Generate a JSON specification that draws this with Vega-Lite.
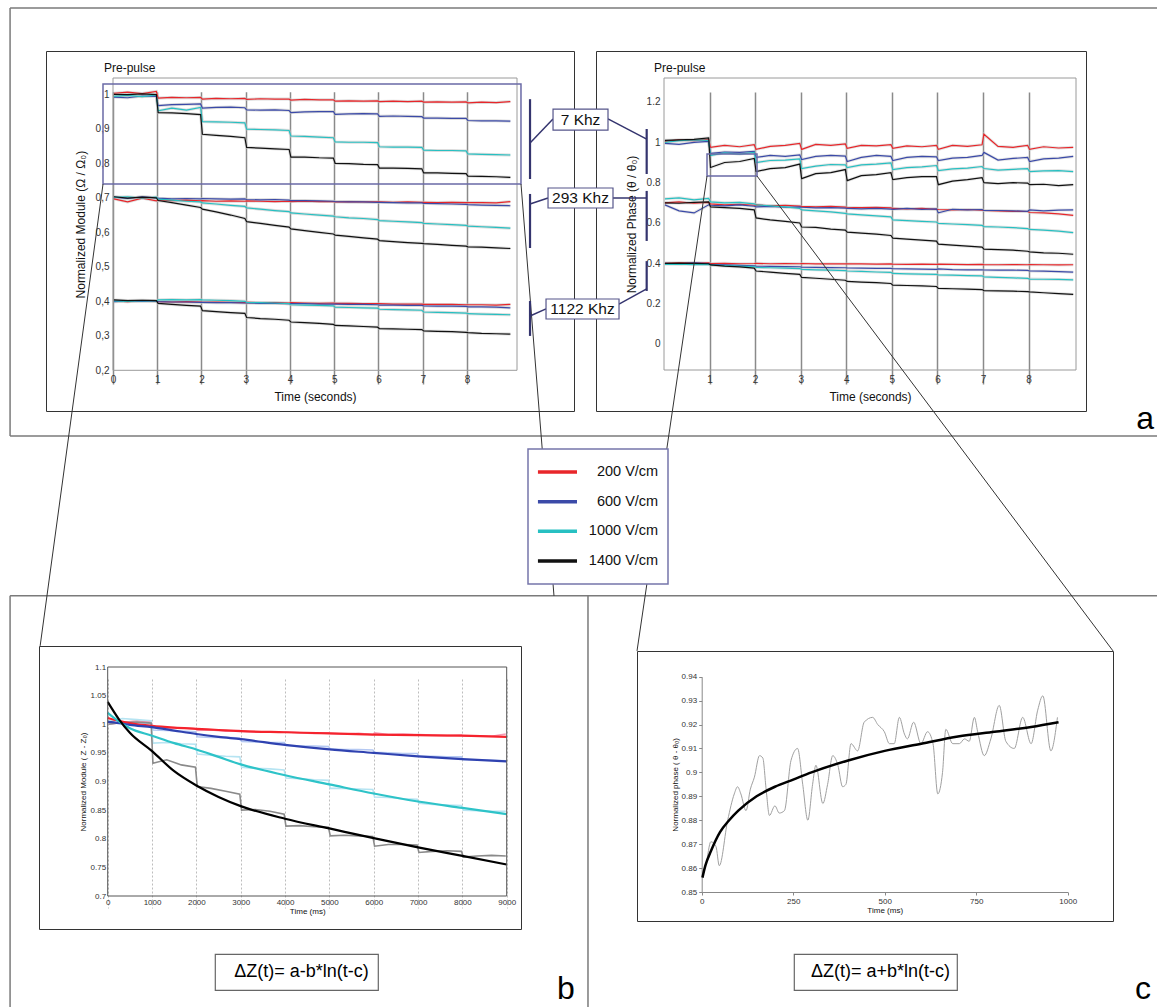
{
"$schema":"https://vega.github.io/schema/vega-lite/v6.json",
"padding":{"left":8,"top":6,"right":0,"bottom":0},
"background":"white",
"config":{"view":{"stroke":null},"font":"Liberation Sans","axis":{"labelFont":"Liberation Sans","titleFont":"Liberation Sans","titleFontWeight":"normal","labelColor":"#333","titleColor":"#111","labelFlush":false,"labelOverlap":false,"tickCount":30},"text":{"font":"Liberation Sans"}},
"datasets":{
"mod":[
{"t":0.02,"a1":1.003,"a2":0.992,"a3":0.994,"a4":1.000,"b1":0.697,"b2":0.702,"b3":0.701,"b4":0.703,"c1":0.401,"c2":0.399,"c3":0.401,"c4":0.404},
{"t":0.33,"a1":1.006,"a2":0.990,"a3":0.997,"a4":0.999,"b1":0.688,"b2":0.698,"b3":0.703,"b4":0.699,"c1":0.399,"c2":0.401,"c3":0.400,"c4":0.402},
{"t":0.66,"a1":1.002,"a2":0.995,"a3":0.993,"a4":1.001,"b1":0.699,"b2":0.703,"b3":0.699,"b4":0.702,"c1":0.402,"c2":0.400,"c3":0.402,"c4":0.403},
{"t":0.98,"a1":1.008,"a2":0.994,"a3":0.998,"a4":0.999,"b1":0.691,"b2":0.700,"b3":0.702,"b4":0.700,"c1":0.400,"c2":0.401,"c3":0.401,"c4":0.402},
{"t":1.02,"a1":0.989,"a2":0.967,"a3":0.952,"a4":0.947,"b1":0.694,"b2":0.699,"b3":0.696,"b4":0.692,"c1":0.399,"c2":0.399,"c3":0.404,"c4":0.394},
{"t":1.33,"a1":0.991,"a2":0.970,"a3":0.960,"a4":0.946,"b1":0.692,"b2":0.697,"b3":0.693,"b4":0.686,"c1":0.398,"c2":0.398,"c3":0.405,"c4":0.391},
{"t":1.66,"a1":0.990,"a2":0.971,"a3":0.954,"a4":0.944,"b1":0.693,"b2":0.698,"b3":0.690,"b4":0.679,"c1":0.399,"c2":0.398,"c3":0.404,"c4":0.388},
{"t":1.98,"a1":0.991,"a2":0.972,"a3":0.962,"a4":0.941,"b1":0.691,"b2":0.697,"b3":0.688,"b4":0.672,"c1":0.398,"c2":0.397,"c3":0.405,"c4":0.386},
{"t":2.02,"a1":0.986,"a2":0.960,"a3":0.921,"a4":0.884,"b1":0.692,"b2":0.698,"b3":0.685,"b4":0.667,"c1":0.397,"c2":0.397,"c3":0.404,"c4":0.373},
{"t":2.33,"a1":0.988,"a2":0.962,"a3":0.920,"a4":0.881,"b1":0.690,"b2":0.697,"b3":0.682,"b4":0.659,"c1":0.398,"c2":0.396,"c3":0.403,"c4":0.370},
{"t":2.66,"a1":0.987,"a2":0.963,"a3":0.919,"a4":0.878,"b1":0.691,"b2":0.696,"b3":0.678,"b4":0.650,"c1":0.397,"c2":0.396,"c3":0.402,"c4":0.367},
{"t":2.98,"a1":0.988,"a2":0.961,"a3":0.917,"a4":0.874,"b1":0.690,"b2":0.697,"b3":0.675,"b4":0.640,"c1":0.396,"c2":0.395,"c3":0.400,"c4":0.365},
{"t":3.02,"a1":0.985,"a2":0.955,"a3":0.899,"a4":0.846,"b1":0.691,"b2":0.695,"b3":0.671,"b4":0.631,"c1":0.397,"c2":0.395,"c3":0.397,"c4":0.353},
{"t":3.33,"a1":0.987,"a2":0.954,"a3":0.898,"a4":0.844,"b1":0.690,"b2":0.694,"b3":0.667,"b4":0.626,"c1":0.396,"c2":0.394,"c3":0.396,"c4":0.350},
{"t":3.66,"a1":0.986,"a2":0.955,"a3":0.897,"a4":0.842,"b1":0.689,"b2":0.695,"b3":0.663,"b4":0.620,"c1":0.396,"c2":0.394,"c3":0.395,"c4":0.348},
{"t":3.98,"a1":0.986,"a2":0.953,"a3":0.895,"a4":0.840,"b1":0.690,"b2":0.693,"b3":0.660,"b4":0.615,"c1":0.395,"c2":0.393,"c3":0.393,"c4":0.345},
{"t":4.02,"a1":0.983,"a2":0.947,"a3":0.879,"a4":0.818,"b1":0.689,"b2":0.692,"b3":0.656,"b4":0.610,"c1":0.396,"c2":0.393,"c3":0.390,"c4":0.340},
{"t":4.33,"a1":0.985,"a2":0.949,"a3":0.878,"a4":0.818,"b1":0.690,"b2":0.692,"b3":0.653,"b4":0.605,"c1":0.395,"c2":0.393,"c3":0.389,"c4":0.338},
{"t":4.66,"a1":0.984,"a2":0.950,"a3":0.876,"a4":0.816,"b1":0.689,"b2":0.691,"b3":0.650,"b4":0.600,"c1":0.394,"c2":0.392,"c3":0.388,"c4":0.336},
{"t":4.98,"a1":0.984,"a2":0.950,"a3":0.874,"a4":0.815,"b1":0.689,"b2":0.690,"b3":0.647,"b4":0.595,"c1":0.395,"c2":0.392,"c3":0.387,"c4":0.333},
{"t":5.02,"a1":0.980,"a2":0.942,"a3":0.862,"a4":0.800,"b1":0.688,"b2":0.689,"b3":0.645,"b4":0.592,"c1":0.394,"c2":0.392,"c3":0.383,"c4":0.330},
{"t":5.33,"a1":0.981,"a2":0.943,"a3":0.861,"a4":0.799,"b1":0.689,"b2":0.688,"b3":0.642,"b4":0.588,"c1":0.394,"c2":0.391,"c3":0.382,"c4":0.329},
{"t":5.66,"a1":0.980,"a2":0.944,"a3":0.861,"a4":0.797,"b1":0.688,"b2":0.688,"b3":0.640,"b4":0.584,"c1":0.393,"c2":0.391,"c3":0.381,"c4":0.327},
{"t":5.98,"a1":0.981,"a2":0.943,"a3":0.860,"a4":0.796,"b1":0.688,"b2":0.687,"b3":0.637,"b4":0.580,"c1":0.393,"c2":0.390,"c3":0.380,"c4":0.325},
{"t":6.02,"a1":0.979,"a2":0.936,"a3":0.848,"a4":0.786,"b1":0.688,"b2":0.687,"b3":0.634,"b4":0.576,"c1":0.393,"c2":0.389,"c3":0.377,"c4":0.321},
{"t":6.33,"a1":0.980,"a2":0.937,"a3":0.847,"a4":0.786,"b1":0.687,"b2":0.686,"b3":0.632,"b4":0.573,"c1":0.392,"c2":0.389,"c3":0.376,"c4":0.320},
{"t":6.66,"a1":0.979,"a2":0.936,"a3":0.847,"a4":0.785,"b1":0.688,"b2":0.685,"b3":0.630,"b4":0.570,"c1":0.392,"c2":0.388,"c3":0.375,"c4":0.319},
{"t":6.98,"a1":0.980,"a2":0.935,"a3":0.846,"a4":0.784,"b1":0.687,"b2":0.685,"b3":0.628,"b4":0.568,"c1":0.392,"c2":0.388,"c3":0.374,"c4":0.318},
{"t":7.02,"a1":0.977,"a2":0.931,"a3":0.838,"a4":0.772,"b1":0.687,"b2":0.684,"b3":0.626,"b4":0.567,"c1":0.391,"c2":0.387,"c3":0.369,"c4":0.314},
{"t":7.33,"a1":0.978,"a2":0.931,"a3":0.837,"a4":0.772,"b1":0.686,"b2":0.683,"b3":0.624,"b4":0.565,"c1":0.391,"c2":0.386,"c3":0.368,"c4":0.313},
{"t":7.66,"a1":0.977,"a2":0.930,"a3":0.837,"a4":0.771,"b1":0.687,"b2":0.682,"b3":0.622,"b4":0.562,"c1":0.391,"c2":0.386,"c3":0.367,"c4":0.312},
{"t":7.98,"a1":0.978,"a2":0.930,"a3":0.836,"a4":0.770,"b1":0.686,"b2":0.681,"b3":0.620,"b4":0.560,"c1":0.390,"c2":0.385,"c3":0.366,"c4":0.310},
{"t":8.02,"a1":0.975,"a2":0.924,"a3":0.827,"a4":0.763,"b1":0.686,"b2":0.680,"b3":0.618,"b4":0.558,"c1":0.390,"c2":0.384,"c3":0.364,"c4":0.309},
{"t":8.33,"a1":0.977,"a2":0.923,"a3":0.826,"a4":0.762,"b1":0.686,"b2":0.679,"b3":0.616,"b4":0.557,"c1":0.390,"c2":0.384,"c3":0.363,"c4":0.307},
{"t":8.66,"a1":0.976,"a2":0.923,"a3":0.825,"a4":0.761,"b1":0.685,"b2":0.678,"b3":0.614,"b4":0.555,"c1":0.389,"c2":0.383,"c3":0.362,"c4":0.306},
{"t":8.98,"a1":0.979,"a2":0.922,"a3":0.824,"a4":0.759,"b1":0.689,"b2":0.677,"b3":0.612,"b4":0.553,"c1":0.391,"c2":0.381,"c3":0.361,"c4":0.305}
],
"pha":[
{"t":0.02,"a1":1.005,"a2":0.995,"a3":1.000,"a4":1.010,"b1":0.700,"b2":0.690,"b3":0.720,"b4":0.700,"c1":0.400,"c2":0.400,"c3":0.395,"c4":0.400},
{"t":0.33,"a1":1.012,"a2":0.990,"a3":1.008,"a4":1.012,"b1":0.705,"b2":0.660,"b3":0.725,"b4":0.698,"c1":0.402,"c2":0.398,"c3":0.396,"c4":0.401},
{"t":0.66,"a1":1.008,"a2":1.000,"a3":1.012,"a4":1.015,"b1":0.698,"b2":0.650,"b3":0.715,"b4":0.702,"c1":0.401,"c2":0.402,"c3":0.394,"c4":0.400},
{"t":0.98,"a1":1.015,"a2":1.005,"a3":1.010,"a4":1.022,"b1":0.702,"b2":0.690,"b3":0.722,"b4":0.705,"c1":0.402,"c2":0.399,"c3":0.395,"c4":0.398},
{"t":1.02,"a1":0.975,"a2":0.945,"a3":0.935,"a4":0.875,"b1":0.695,"b2":0.688,"b3":0.705,"b4":0.680,"c1":0.399,"c2":0.395,"c3":0.392,"c4":0.392},
{"t":1.33,"a1":0.985,"a2":0.952,"a3":0.948,"a4":0.900,"b1":0.690,"b2":0.685,"b3":0.700,"b4":0.676,"c1":0.400,"c2":0.392,"c3":0.389,"c4":0.386},
{"t":1.66,"a1":0.978,"a2":0.950,"a3":0.942,"a4":0.905,"b1":0.693,"b2":0.690,"b3":0.702,"b4":0.672,"c1":0.398,"c2":0.390,"c3":0.386,"c4":0.382},
{"t":1.98,"a1":0.988,"a2":0.955,"a3":0.950,"a4":0.920,"b1":0.688,"b2":0.683,"b3":0.695,"b4":0.665,"c1":0.399,"c2":0.388,"c3":0.384,"c4":0.376},
{"t":2.02,"a1":0.965,"a2":0.925,"a3":0.900,"a4":0.855,"b1":0.690,"b2":0.680,"b3":0.690,"b4":0.625,"c1":0.400,"c2":0.386,"c3":0.380,"c4":0.362},
{"t":2.33,"a1":0.980,"a2":0.935,"a3":0.910,"a4":0.870,"b1":0.685,"b2":0.682,"b3":0.685,"b4":0.615,"c1":0.398,"c2":0.385,"c3":0.378,"c4":0.356},
{"t":2.66,"a1":0.985,"a2":0.930,"a3":0.912,"a4":0.875,"b1":0.688,"b2":0.678,"b3":0.680,"b4":0.608,"c1":0.399,"c2":0.384,"c3":0.376,"c4":0.350},
{"t":2.98,"a1":0.995,"a2":0.938,"a3":0.918,"a4":0.892,"b1":0.684,"b2":0.680,"b3":0.672,"b4":0.600,"c1":0.398,"c2":0.383,"c3":0.374,"c4":0.345},
{"t":3.02,"a1":0.965,"a2":0.915,"a3":0.870,"a4":0.820,"b1":0.682,"b2":0.678,"b3":0.665,"b4":0.580,"c1":0.399,"c2":0.381,"c3":0.370,"c4":0.330},
{"t":3.33,"a1":0.990,"a2":0.930,"a3":0.882,"a4":0.845,"b1":0.680,"b2":0.675,"b3":0.660,"b4":0.578,"c1":0.397,"c2":0.380,"c3":0.368,"c4":0.326},
{"t":3.66,"a1":0.985,"a2":0.935,"a3":0.890,"a4":0.850,"b1":0.682,"b2":0.676,"b3":0.655,"b4":0.570,"c1":0.398,"c2":0.379,"c3":0.366,"c4":0.321},
{"t":3.98,"a1":0.992,"a2":0.932,"a3":0.888,"a4":0.865,"b1":0.679,"b2":0.674,"b3":0.648,"b4":0.565,"c1":0.397,"c2":0.378,"c3":0.364,"c4":0.316},
{"t":4.02,"a1":0.970,"a2":0.905,"a3":0.875,"a4":0.810,"b1":0.678,"b2":0.672,"b3":0.645,"b4":0.555,"c1":0.398,"c2":0.377,"c3":0.362,"c4":0.310},
{"t":4.33,"a1":0.985,"a2":0.925,"a3":0.888,"a4":0.835,"b1":0.676,"b2":0.670,"b3":0.640,"b4":0.550,"c1":0.397,"c2":0.376,"c3":0.360,"c4":0.307},
{"t":4.66,"a1":0.982,"a2":0.935,"a3":0.892,"a4":0.840,"b1":0.677,"b2":0.672,"b3":0.635,"b4":0.545,"c1":0.396,"c2":0.375,"c3":0.357,"c4":0.304},
{"t":4.98,"a1":0.988,"a2":0.930,"a3":0.898,"a4":0.850,"b1":0.675,"b2":0.669,"b3":0.630,"b4":0.538,"c1":0.397,"c2":0.375,"c3":0.355,"c4":0.300},
{"t":5.02,"a1":0.970,"a2":0.910,"a3":0.865,"a4":0.815,"b1":0.672,"b2":0.668,"b3":0.615,"b4":0.525,"c1":0.396,"c2":0.373,"c3":0.350,"c4":0.292},
{"t":5.33,"a1":0.982,"a2":0.925,"a3":0.875,"a4":0.825,"b1":0.670,"b2":0.672,"b3":0.612,"b4":0.520,"c1":0.395,"c2":0.372,"c3":0.348,"c4":0.290},
{"t":5.66,"a1":0.978,"a2":0.930,"a3":0.878,"a4":0.830,"b1":0.672,"b2":0.668,"b3":0.608,"b4":0.515,"c1":0.396,"c2":0.371,"c3":0.346,"c4":0.288},
{"t":5.98,"a1":0.985,"a2":0.928,"a3":0.885,"a4":0.830,"b1":0.668,"b2":0.670,"b3":0.605,"b4":0.510,"c1":0.395,"c2":0.370,"c3":0.345,"c4":0.285},
{"t":6.02,"a1":0.965,"a2":0.910,"a3":0.860,"a4":0.790,"b1":0.667,"b2":0.650,"b3":0.598,"b4":0.495,"c1":0.396,"c2":0.372,"c3":0.342,"c4":0.276},
{"t":6.33,"a1":0.985,"a2":0.922,"a3":0.868,"a4":0.808,"b1":0.665,"b2":0.668,"b3":0.595,"b4":0.490,"c1":0.395,"c2":0.369,"c3":0.341,"c4":0.274},
{"t":6.66,"a1":0.980,"a2":0.925,"a3":0.872,"a4":0.815,"b1":0.667,"b2":0.665,"b3":0.592,"b4":0.485,"c1":0.394,"c2":0.368,"c3":0.339,"c4":0.272},
{"t":6.98,"a1":0.988,"a2":0.935,"a3":0.880,"a4":0.825,"b1":0.664,"b2":0.667,"b3":0.588,"b4":0.480,"c1":0.395,"c2":0.368,"c3":0.338,"c4":0.270},
{"t":7.02,"a1":1.040,"a2":0.950,"a3":0.870,"a4":0.800,"b1":0.662,"b2":0.662,"b3":0.582,"b4":0.470,"c1":0.394,"c2":0.367,"c3":0.333,"c4":0.265},
{"t":7.33,"a1":0.980,"a2":0.912,"a3":0.862,"a4":0.795,"b1":0.660,"b2":0.662,"b3":0.580,"b4":0.468,"c1":0.393,"c2":0.366,"c3":0.330,"c4":0.263},
{"t":7.66,"a1":0.975,"a2":0.920,"a3":0.866,"a4":0.800,"b1":0.658,"b2":0.660,"b3":0.577,"b4":0.465,"c1":0.394,"c2":0.366,"c3":0.328,"c4":0.262},
{"t":7.98,"a1":0.985,"a2":0.925,"a3":0.870,"a4":0.798,"b1":0.657,"b2":0.658,"b3":0.572,"b4":0.460,"c1":0.393,"c2":0.365,"c3":0.325,"c4":0.260},
{"t":8.02,"a1":0.965,"a2":0.905,"a3":0.855,"a4":0.790,"b1":0.652,"b2":0.665,"b3":0.568,"b4":0.457,"c1":0.394,"c2":0.362,"c3":0.322,"c4":0.258},
{"t":8.33,"a1":0.978,"a2":0.918,"a3":0.858,"a4":0.792,"b1":0.650,"b2":0.660,"b3":0.565,"b4":0.452,"c1":0.393,"c2":0.361,"c3":0.321,"c4":0.254},
{"t":8.66,"a1":0.972,"a2":0.922,"a3":0.860,"a4":0.785,"b1":0.645,"b2":0.664,"b3":0.560,"b4":0.450,"c1":0.392,"c2":0.359,"c3":0.320,"c4":0.250},
{"t":8.98,"a1":0.975,"a2":0.930,"a3":0.855,"a4":0.790,"b1":0.638,"b2":0.665,"b3":0.552,"b4":0.445,"c1":0.393,"c2":0.356,"c3":0.318,"c4":0.246}
],
"braw":[
{"t":20,"r200":1.000,"r600":1.000,"r1000":1.005,"r1400":1.000},
{"t":330,"r200":1.003,"r600":1.004,"r1000":1.010,"r1400":1.003},
{"t":660,"r200":1.006,"r600":1.002,"r1000":1.008,"r1400":1.004},
{"t":980,"r200":1.004,"r600":1.001,"r1000":1.006,"r1400":1.002},
{"t":1020,"r200":0.995,"r600":0.990,"r1000":0.967,"r1400":0.932},
{"t":1330,"r200":0.993,"r600":0.989,"r1000":0.968,"r1400":0.938},
{"t":1660,"r200":0.994,"r600":0.988,"r1000":0.966,"r1400":0.929},
{"t":1980,"r200":0.992,"r600":0.987,"r1000":0.965,"r1400":0.925},
{"t":2020,"r200":0.989,"r600":0.978,"r1000":0.948,"r1400":0.891},
{"t":2330,"r200":0.990,"r600":0.977,"r1000":0.946,"r1400":0.888},
{"t":2660,"r200":0.988,"r600":0.977,"r1000":0.944,"r1400":0.883},
{"t":2980,"r200":0.989,"r600":0.976,"r1000":0.943,"r1400":0.878},
{"t":3020,"r200":0.988,"r600":0.970,"r1000":0.925,"r1400":0.850},
{"t":3330,"r200":0.986,"r600":0.969,"r1000":0.923,"r1400":0.851},
{"t":3660,"r200":0.987,"r600":0.968,"r1000":0.922,"r1400":0.848},
{"t":3980,"r200":0.986,"r600":0.968,"r1000":0.920,"r1400":0.843},
{"t":4020,"r200":0.987,"r600":0.963,"r1000":0.906,"r1400":0.822},
{"t":4330,"r200":0.985,"r600":0.962,"r1000":0.905,"r1400":0.823},
{"t":4660,"r200":0.984,"r600":0.962,"r1000":0.903,"r1400":0.821},
{"t":4980,"r200":0.985,"r600":0.961,"r1000":0.902,"r1400":0.820},
{"t":5020,"r200":0.984,"r600":0.957,"r1000":0.888,"r1400":0.805},
{"t":5330,"r200":0.983,"r600":0.956,"r1000":0.888,"r1400":0.806},
{"t":5660,"r200":0.984,"r600":0.956,"r1000":0.887,"r1400":0.805},
{"t":5980,"r200":0.982,"r600":0.955,"r1000":0.886,"r1400":0.804},
{"t":6020,"r200":0.985,"r600":0.951,"r1000":0.873,"r1400":0.787},
{"t":6330,"r200":0.982,"r600":0.950,"r1000":0.872,"r1400":0.790},
{"t":6660,"r200":0.983,"r600":0.949,"r1000":0.870,"r1400":0.790},
{"t":6980,"r200":0.982,"r600":0.949,"r1000":0.869,"r1400":0.789},
{"t":7020,"r200":0.982,"r600":0.944,"r1000":0.862,"r1400":0.776},
{"t":7330,"r200":0.981,"r600":0.944,"r1000":0.860,"r1400":0.778},
{"t":7660,"r200":0.980,"r600":0.943,"r1000":0.859,"r1400":0.779},
{"t":7980,"r200":0.981,"r600":0.943,"r1000":0.858,"r1400":0.778},
{"t":8020,"r200":0.979,"r600":0.938,"r1000":0.850,"r1400":0.768},
{"t":8330,"r200":0.980,"r600":0.938,"r1000":0.849,"r1400":0.770},
{"t":8660,"r200":0.979,"r600":0.937,"r1000":0.848,"r1400":0.771},
{"t":8980,"r200":0.983,"r600":0.936,"r1000":0.848,"r1400":0.770}
],
"bfit":[
{"t":0,"f200":1.011,"f600":1.004,"f1000":1.020,"f1400":1.039},
{"t":250,"f200":1.006,"f600":1.002,"f1000":1.005,"f1400":1.009},
{"t":500,"f200":1.002,"f600":0.999,"f1000":0.993,"f1400":0.985},
{"t":1000,"f200":0.997,"f600":0.995,"f1000":0.980,"f1400":0.953},
{"t":1500,"f200":0.994,"f600":0.989,"f1000":0.967,"f1400":0.918},
{"t":2000,"f200":0.992,"f600":0.983,"f1000":0.956,"f1400":0.893},
{"t":2500,"f200":0.990,"f600":0.978,"f1000":0.943,"f1400":0.873},
{"t":3000,"f200":0.988,"f600":0.974,"f1000":0.930,"f1400":0.857},
{"t":4000,"f200":0.986,"f600":0.964,"f1000":0.911,"f1400":0.835},
{"t":5000,"f200":0.984,"f600":0.956,"f1000":0.895,"f1400":0.818},
{"t":6000,"f200":0.982,"f600":0.950,"f1000":0.879,"f1400":0.801},
{"t":7000,"f200":0.981,"f600":0.944,"f1000":0.865,"f1400":0.785},
{"t":8000,"f200":0.980,"f600":0.939,"f1000":0.854,"f1400":0.770},
{"t":9000,"f200":0.978,"f600":0.935,"f1000":0.843,"f1400":0.755}
],
"craw":[
{"t":2,"v":0.858},{"t":12,"v":0.862},{"t":25,"v":0.871},{"t":39,"v":0.869},{"t":48,"v":0.861},{"t":71,"v":0.880},{"t":89,"v":0.891},{"t":98,"v":0.894},{"t":107,"v":0.891},{"t":121,"v":0.884},{"t":133,"v":0.893},{"t":144,"v":0.898},{"t":158,"v":0.907},{"t":167,"v":0.906},{"t":176,"v":0.893},{"t":185,"v":0.882},{"t":200,"v":0.886},{"t":212,"v":0.883},{"t":226,"v":0.884},{"t":244,"v":0.905},{"t":262,"v":0.910},{"t":276,"v":0.895},{"t":290,"v":0.880},{"t":303,"v":0.895},{"t":312,"v":0.903},{"t":331,"v":0.887},{"t":344,"v":0.895},{"t":358,"v":0.907},{"t":372,"v":0.903},{"t":385,"v":0.894},{"t":394,"v":0.895},{"t":408,"v":0.912},{"t":426,"v":0.909},{"t":444,"v":0.921},{"t":467,"v":0.923},{"t":481,"v":0.920},{"t":499,"v":0.917},{"t":513,"v":0.912},{"t":526,"v":0.912},{"t":540,"v":0.923},{"t":554,"v":0.916},{"t":562,"v":0.914},{"t":579,"v":0.921},{"t":599,"v":0.912},{"t":617,"v":0.917},{"t":632,"v":0.912},{"t":645,"v":0.891},{"t":658,"v":0.900},{"t":667,"v":0.918},{"t":686,"v":0.912},{"t":704,"v":0.912},{"t":718,"v":0.914},{"t":731,"v":0.913},{"t":745,"v":0.923},{"t":754,"v":0.917},{"t":772,"v":0.907},{"t":790,"v":0.914},{"t":813,"v":0.928},{"t":831,"v":0.913},{"t":854,"v":0.910},{"t":877,"v":0.923},{"t":900,"v":0.912},{"t":918,"v":0.926},{"t":932,"v":0.932},{"t":954,"v":0.909},{"t":972,"v":0.923}
],
"cfit":[
{"t":2,"v":0.856},{"t":10,"v":0.861},{"t":25,"v":0.867},{"t":50,"v":0.875},{"t":75,"v":0.880},{"t":100,"v":0.884},{"t":150,"v":0.890},{"t":200,"v":0.894},{"t":250,"v":0.897},{"t":300,"v":0.900},{"t":400,"v":0.905},{"t":500,"v":0.909},{"t":600,"v":0.912},{"t":700,"v":0.915},{"t":800,"v":0.917},{"t":900,"v":0.919},{"t":975,"v":0.921}
],
"seg":[
{"k":"fr","x":-14.35,"y":1.666,"x2":10.84,"y2":1.666},
{"k":"fr","x":-14.35,"y":1.666,"x2":-14.35,"y2":-0.456},
{"k":"fr","x":-14.35,"y":-0.456,"x2":10.84,"y2":-0.456},
{"k":"fr","x":-14.35,"y":-1.249,"x2":10.84,"y2":-1.249},
{"k":"fr","x":-14.35,"y":-1.249,"x2":-14.35,"y2":-3.292},
{"k":"fr","x":-1.668,"y":-1.249,"x2":-1.668,"y2":-3.292},
{"k":"zl","x":-12.31,"y":0.793,"x2":-13.69,"y2":-1.497},
{"k":"zl","x":-3.138,"y":0.793,"x2":-2.414,"y2":-1.249},
{"k":"zl","x":0.944,"y":0.833,"x2":-0.592,"y2":-1.522},
{"k":"zl","x":2.041,"y":0.833,"x2":9.853,"y2":-1.522},
{"k":"br","x":-2.94,"y":1.214,"x2":-2.94,"y2":0.818},
{"k":"br","x":-2.94,"y":0.744,"x2":-2.94,"y2":0.476},
{"k":"br","x":-2.94,"y":0.213,"x2":-2.94,"y2":0.04},
{"k":"br","x":-0.38,"y":1.066,"x2":-0.38,"y2":0.843},
{"k":"br","x":-0.38,"y":0.759,"x2":-0.38,"y2":0.511},
{"k":"br","x":-0.38,"y":0.411,"x2":-0.38,"y2":0.263},
{"k":"cn","x":-2.436,"y":1.116,"x2":-2.94,"y2":0.997},
{"k":"cn","x":-1.229,"y":1.116,"x2":-0.38,"y2":1.016},
{"k":"cn","x":-2.546,"y":0.724,"x2":-2.94,"y2":0.694},
{"k":"cn","x":-1.119,"y":0.724,"x2":-0.38,"y2":0.724},
{"k":"cn","x":-2.589,"y":0.174,"x2":-2.94,"y2":0.139},
{"k":"cn","x":-0.988,"y":0.198,"x2":-0.38,"y2":0.273}
],
"lab":[
{"label":"7 Khz","x":-1.832,"y":1.113},
{"label":"293 Khz","x":-1.832,"y":0.724},
{"label":"1122 Khz","x":-1.788,"y":0.1735}
]
},
"bounds":"flush",
"spacing":0,
"vconcat":[
{"bounds":"flush","spacing":0,"hconcat":[
 {"width":7,"height":360,"data":{"values":[]},"mark":"point"},
 {"width":528,"height":360,"view":{"stroke":"#333","strokeWidth":1},
   "layer":[
    {"data":{"name":"mod"},"transform":[{"fold":["a1","a2","a3","a4","b1","b2","b3","b4","c1","c2","c3","c4"],"as":["s","v"]}],
     "mark":{"type":"line","stroke":"#c4c4c4","strokeWidth":3,"opacity":0.6},
     "encoding":{
      "x":{"field":"t","type":"quantitative","scale":{"domain":[0,9.13],"range":[67,471],"nice":false,"zero":false},
           "axis":{"orient":"bottom","offset":-40.7,"values":[0,1,2,3,4,5,6,7,8],"tickCount":30,"format":"d","grid":true,"gridColor":"#8a8a8a","gridWidth":1.5,"domain":false,"ticks":false,"labelFontSize":10,"labelPadding":4,"title":"Time (seconds)","titleFontSize":12,"titlePadding":7}},
      "y":{"field":"v","type":"quantitative","scale":{"domain":[0.2,1.0472],"range":[319.3,27],"nice":false,"zero":false},
           "axis":{"orient":"left","offset":-67,"values":[0.2,0.3,0.4,0.5,0.6,0.7,0.8,0.9,1],"tickCount":30,"grid":false,"domain":false,"ticks":false,"labelFontSize":10,"labelPadding":4,"labelExpr":"replace(format(datum.value, '.1~f'), '.', ',')","title":"Normalized Module (Ω / Ω₀)","titleFontSize":12,"titlePadding":8}},
      "detail":{"field":"s"}}},
    {"data":{"name":"mod"},"transform":[{"fold":["a1","a2","a3","a4","b1","b2","b3","b4","c1","c2","c3","c4"],"as":["s","v"]}],
     "mark":{"type":"line","strokeWidth":1.2},
     "encoding":{
      "x":{"field":"t","type":"quantitative","scale":{"domain":[0,9.13],"range":[67,471],"nice":false,"zero":false}},
      "y":{"field":"v","type":"quantitative","scale":{"domain":[0.2,1.0472],"range":[319.3,27],"nice":false,"zero":false}},
      "color":{"field":"s","type":"nominal","scale":{"domain":["a1","a2","a3","a4","b1","b2","b3","b4","c1","c2","c3","c4"],"range":["#e8262a","#3b4aa8","#27c0c2","#111111","#e8262a","#3b4aa8","#27c0c2","#111111","#e8262a","#3b4aa8","#27c0c2","#111111"]},"legend":null}}},
    {"data":{"values":[{}]},"mark":{"type":"rect","fill":"transparent","stroke":"#9a9a9a","strokeWidth":1},
     "encoding":{
      "x":{"datum":0,"type":"quantitative","scale":{"domain":[0,9.13],"range":[67,471],"nice":false,"zero":false}},
      "x2":{"datum":9.13},
      "y":{"datum":0.2,"type":"quantitative","scale":{"domain":[0.2,1.0472],"range":[319.3,27],"nice":false,"zero":false}},
      "y2":{"datum":1.0472}}},
    {"data":{"values":[{"x1":-0.226,"x2":9.22,"y1":0.74,"y2":1.03}]},"mark":{"type":"rect","fill":"transparent","stroke":"#6a6aa6","strokeWidth":1.5},
     "encoding":{
      "x":{"field":"x1","type":"quantitative","scale":{"domain":[0,9.13],"range":[67,471],"nice":false,"zero":false}},
      "x2":{"field":"x2"},
      "y":{"field":"y1","type":"quantitative","scale":{"domain":[0.2,1.0472],"range":[319.3,27],"nice":false,"zero":false}},
      "y2":{"field":"y2"}}},
    {"data":{"values":[{"label":"Pre-pulse","t":-0.203,"v":1.0646}]},"mark":{"type":"text","align":"left","baseline":"alphabetic","fontSize":12,"color":"#111"},
     "encoding":{
      "x":{"field":"t","type":"quantitative","scale":{"domain":[0,9.13],"range":[67,471],"nice":false,"zero":false}},
      "y":{"field":"v","type":"quantitative","scale":{"domain":[0.2,1.0472],"range":[319.3,27],"nice":false,"zero":false}},
      "text":{"field":"label"}}}
   ]},
 {"width":22,"height":1,"data":{"values":[]},"mark":"point"},
 {"width":490,"height":360,"view":{"stroke":"#333","strokeWidth":1},
   "layer":[
    {"data":{"name":"pha"},"transform":[{"fold":["a1","a2","a3","a4","b1","b2","b3","b4","c1","c2","c3","c4"],"as":["s","v"]}],
     "mark":{"type":"line","stroke":"#c8c8c8","strokeWidth":3,"opacity":0.5},
     "encoding":{
      "x":{"field":"t","type":"quantitative","scale":{"domain":[0,9.041],"range":[68,480],"nice":false,"zero":false},
           "axis":{"orient":"bottom","offset":-41,"values":[1,2,3,4,5,6,7,8],"tickCount":30,"format":"d","grid":true,"gridColor":"#8a8a8a","gridWidth":1.5,"domain":false,"ticks":false,"labelFontSize":10,"labelPadding":4,"title":"Time (seconds)","titleFontSize":12,"titlePadding":7}},
      "y":{"field":"v","type":"quantitative","scale":{"domain":[-0.129,1.319],"range":[319,27],"nice":false,"zero":false},
           "axis":{"orient":"left","offset":-68,"values":[0,0.2,0.4,0.6,0.8,1,1.2],"tickCount":30,"format":".1~f","grid":false,"domain":false,"ticks":false,"labelFontSize":10,"labelPadding":4,"title":"Normalized Phase (θ / θ₀)","titleFontSize":12,"titlePadding":8}},
      "detail":{"field":"s"}}},
    {"data":{"name":"pha"},"transform":[{"fold":["a1","a2","a3","a4","b1","b2","b3","b4","c1","c2","c3","c4"],"as":["s","v"]}],
     "mark":{"type":"line","strokeWidth":1.2},
     "encoding":{
      "x":{"field":"t","type":"quantitative","scale":{"domain":[0,9.041],"range":[68,480],"nice":false,"zero":false}},
      "y":{"field":"v","type":"quantitative","scale":{"domain":[-0.129,1.319],"range":[319,27],"nice":false,"zero":false}},
      "color":{"field":"s","type":"nominal","scale":{"domain":["a1","a2","a3","a4","b1","b2","b3","b4","c1","c2","c3","c4"],"range":["#e8262a","#3b4aa8","#27c0c2","#111111","#e8262a","#3b4aa8","#27c0c2","#111111","#f0a0a0","#3b4aa8","#27c0c2","#111111"]},"legend":null}}},
    {"data":{"values":[{}]},"mark":{"type":"rect","fill":"transparent","stroke":"#9a9a9a","strokeWidth":1},
     "encoding":{
      "x":{"datum":0,"type":"quantitative","scale":{"domain":[0,9.041],"range":[68,480],"nice":false,"zero":false}},
      "x2":{"datum":9.041},
      "y":{"datum":-0.129,"type":"quantitative","scale":{"domain":[-0.129,1.319],"range":[319,27],"nice":false,"zero":false}},
      "y2":{"datum":1.319}}},
    {"data":{"values":[{"x1":0.944,"x2":2.041,"y1":0.833,"y2":0.942}]},"mark":{"type":"rect","fill":"transparent","stroke":"#6a6aa6","strokeWidth":1.5},
     "encoding":{
      "x":{"field":"x1","type":"quantitative","scale":{"domain":[0,9.041],"range":[68,480],"nice":false,"zero":false}},
      "x2":{"field":"x2"},
      "y":{"field":"y1","type":"quantitative","scale":{"domain":[-0.129,1.319],"range":[319,27],"nice":false,"zero":false}},
      "y2":{"field":"y2"}}},
    {"data":{"values":[{"label":"Pre-pulse","t":-0.219,"v":1.349}]},"mark":{"type":"text","align":"left","baseline":"alphabetic","fontSize":12,"color":"#111"},
     "encoding":{
      "x":{"field":"t","type":"quantitative","scale":{"domain":[0,9.041],"range":[68,480],"nice":false,"zero":false}},
      "y":{"field":"v","type":"quantitative","scale":{"domain":[-0.129,1.319],"range":[319,27],"nice":false,"zero":false}},
      "text":{"field":"label"}}},
    {"data":{"name":"seg"},"transform":[{"filter":"datum.k == 'fr'"}],"mark":{"type":"rule","stroke":"#7a7a7a","strokeWidth":1.5},
     "encoding":{
      "x":{"field":"x","type":"quantitative","scale":{"domain":[0,9.041],"range":[68,480],"nice":false,"zero":false}},
      "x2":{"field":"x2"},
      "y":{"field":"y","type":"quantitative","scale":{"domain":[-0.129,1.319],"range":[319,27],"nice":false,"zero":false}},
      "y2":{"field":"y2"}}},
    {"data":{"name":"seg"},"transform":[{"filter":"datum.k == 'zl'"}],"mark":{"type":"rule","stroke":"#333333","strokeWidth":1},
     "encoding":{
      "x":{"field":"x","type":"quantitative","scale":{"domain":[0,9.041],"range":[68,480],"nice":false,"zero":false}},
      "x2":{"field":"x2"},
      "y":{"field":"y","type":"quantitative","scale":{"domain":[-0.129,1.319],"range":[319,27],"nice":false,"zero":false}},
      "y2":{"field":"y2"}}},
    {"data":{"name":"seg"},"transform":[{"filter":"datum.k == 'br'"}],"mark":{"type":"rule","stroke":"#34346e","strokeWidth":2.2},
     "encoding":{
      "x":{"field":"x","type":"quantitative","scale":{"domain":[0,9.041],"range":[68,480],"nice":false,"zero":false}},
      "x2":{"field":"x2"},
      "y":{"field":"y","type":"quantitative","scale":{"domain":[-0.129,1.319],"range":[319,27],"nice":false,"zero":false}},
      "y2":{"field":"y2"}}},
    {"data":{"name":"seg"},"transform":[{"filter":"datum.k == 'cn'"}],"mark":{"type":"rule","stroke":"#34346e","strokeWidth":1.5},
     "encoding":{
      "x":{"field":"x","type":"quantitative","scale":{"domain":[0,9.041],"range":[68,480],"nice":false,"zero":false}},
      "x2":{"field":"x2"},
      "y":{"field":"y","type":"quantitative","scale":{"domain":[-0.129,1.319],"range":[319,27],"nice":false,"zero":false}},
      "y2":{"field":"y2"}}},
    {"data":{"name":"lab"},"mark":{"type":"point","filled":true,"fill":"white","stroke":"#55558a","strokeWidth":1.2,"size":5329,"opacity":1},
     "encoding":{
      "x":{"field":"x","type":"quantitative","scale":{"domain":[0,9.041],"range":[68,480],"nice":false,"zero":false}},
      "y":{"field":"y","type":"quantitative","scale":{"domain":[-0.129,1.319],"range":[319,27],"nice":false,"zero":false}},
      "shape":{"field":"label","type":"nominal","scale":{"domain":["7 Khz","293 Khz","1122 Khz"],"range":["M-0.753,-0.288H0.753V0.288H-0.753Z","M-0.89,-0.274H0.89V0.274H-0.89Z","M-1,-0.274H1V0.274H-1Z"]},"legend":null}}},
    {"data":{"name":"lab"},"mark":{"type":"text","align":"center","baseline":"middle","fontSize":15.5,"color":"#111"},
     "encoding":{
      "x":{"field":"x","type":"quantitative","scale":{"domain":[0,9.041],"range":[68,480],"nice":false,"zero":false}},
      "y":{"field":"y","type":"quantitative","scale":{"domain":[-0.129,1.319],"range":[319,27],"nice":false,"zero":false}},
      "text":{"field":"label"}}}
   ]},
 {"width":22,"height":1,"data":{"values":[]},"mark":"point"},
 {"width":50,"height":360,"data":{"values":[{"l":"a"}]},"mark":{"type":"text","fontSize":32,"align":"right","baseline":"alphabetic","dx":-4,"dy":18,"color":"#000"},
   "encoding":{"text":{"field":"l"},"x":{"datum":1,"type":"quantitative","scale":{"domain":[0,1]},"axis":null},"y":{"datum":0,"type":"quantitative","scale":{"domain":[0,1]},"axis":null}}}
]},
{"width":1,"height":398,"data":{"values":[]},"mark":"point"},
{"bounds":"flush","spacing":0,"hconcat":[
  {"width":489,"height":1,"data":{"values":[]},"mark":"point"},
  {"width":140,"height":135,"view":{"stroke":"#7575aa","strokeWidth":1.5,"fill":"white"},
   "data":{"values":[{"v":"200 V/cm"},{"v":"600 V/cm"},{"v":"1000 V/cm"},{"v":"1400 V/cm"}]},
   "layer":[
    {"mark":{"type":"rule","strokeWidth":3.5},
     "encoding":{"x":{"datum":0.071,"type":"quantitative","scale":{"domain":[0,1]},"axis":null},"x2":{"datum":0.35},
      "y":{"field":"v","type":"nominal","scale":{"type":"point","padding":0.78,"domain":["200 V/cm","600 V/cm","1000 V/cm","1400 V/cm"]},"axis":null},
      "color":{"field":"v","type":"nominal","scale":{"domain":["200 V/cm","600 V/cm","1000 V/cm","1400 V/cm"],"range":["#f03030","#3a46ac","#72d2d2","#25255a"]},"legend":null}}},
    {"mark":{"type":"text","align":"right","baseline":"middle","fontSize":14.5,"color":"#111"},
     "encoding":{"x":{"datum":0.93,"type":"quantitative","scale":{"domain":[0,1]},"axis":null},
      "y":{"field":"v","type":"nominal","scale":{"type":"point","padding":0.78,"domain":["200 V/cm","600 V/cm","1000 V/cm","1400 V/cm"]},"axis":null},
      "text":{"field":"v"}}}
   ]}
]},
{"width":1,"height":197,"data":{"values":[]},"mark":"point"},
{"bounds":"flush","spacing":0,"hconcat":[
   {"width":482,"height":283,"view":{"stroke":"#333","strokeWidth":1},
    "resolve":{"scale":{"color":"independent"}},
    "layer":[
     {"data":{"name":"braw"},"transform":[{"fold":["r200","r600","r1000","r1400"],"as":["s","v"]}],
      "mark":{"type":"line","strokeWidth":1.6},
      "encoding":{
       "x":{"field":"t","type":"quantitative","scale":{"domain":[0,9000],"range":[68.7,467.7],"nice":false,"zero":false},
            "axis":{"orient":"bottom","offset":-33,"values":[0,1000,2000,3000,4000,5000,6000,7000,8000,9000],"tickCount":30,"format":"d","grid":true,"gridColor":"#bdbdbd","gridDash":[2,2],"gridWidth":1,"domain":false,"ticks":false,"labelFontSize":8,"labelPadding":2,"title":"Time (ms)","titleFontSize":8,"titlePadding":1}},
       "y":{"field":"v","type":"quantitative","scale":{"domain":[0.7,1.1],"range":[250,21],"nice":false,"zero":false},
            "axis":{"orient":"left","offset":-68.7,"values":[0.7,0.75,0.8,0.85,0.9,0.95,1,1.05,1.1],"tickCount":30,"format":"~g","grid":false,"domain":false,"ticks":false,"labelFontSize":8,"labelPadding":2,"title":"Normalized Module ( Z - Z₀)","titleFontSize":8,"titlePadding":3}},
       "color":{"field":"s","type":"nominal","scale":{"domain":["r200","r600","r1000","r1400"],"range":["#f59ab4","#b4c8f2","#b6e4f2","#8a8a8a"]},"legend":null}}},
     {"data":{"name":"bfit"},"transform":[{"fold":["f200","f600","f1000","f1400"],"as":["s","v"]}],
      "mark":{"type":"line","strokeWidth":2.2,"interpolate":"monotone"},
      "encoding":{
       "x":{"field":"t","type":"quantitative","scale":{"domain":[0,9000],"range":[68.7,467.7],"nice":false,"zero":false}},
       "y":{"field":"v","type":"quantitative","scale":{"domain":[0.7,1.1],"range":[250,21],"nice":false,"zero":false}},
       "color":{"field":"s","type":"nominal","scale":{"domain":["f200","f600","f1000","f1400"],"range":["#f5232d","#2f42b0","#2ec3c8","#000000"]},"legend":null}}},
     {"data":{"values":[{}]},"mark":{"type":"rect","fill":"transparent","stroke":"#555","strokeWidth":1},
      "encoding":{
       "x":{"datum":0,"type":"quantitative","scale":{"domain":[0,9000],"range":[68.7,467.7],"nice":false,"zero":false}},
       "x2":{"datum":9000},
       "y":{"datum":0.7,"type":"quantitative","scale":{"domain":[0.7,1.1],"range":[250,21],"nice":false,"zero":false}},
       "y2":{"datum":1.1}}}
    ]},
   {"width":116,"height":1,"data":{"values":[]},"mark":"point"},
   {"bounds":"flush","spacing":0,"vconcat":[
    {"width":476,"height":5,"data":{"values":[]},"mark":"point"},
    {"width":476,"height":270,"view":{"stroke":"#333","strokeWidth":1},
     "layer":[
      {"data":{"name":"craw"},"mark":{"type":"line","stroke":"#a0a0a0","strokeWidth":1,"interpolate":"monotone"},
       "encoding":{
        "x":{"field":"t","type":"quantitative","scale":{"domain":[0,1000],"range":[64.7,430.7],"nice":false,"zero":false},
             "axis":{"orient":"bottom","offset":-29,"values":[0,250,500,750,1000],"tickCount":30,"format":"d","grid":false,"domain":true,"domainColor":"#888","ticks":true,"tickSize":3,"tickColor":"#888","labelFontSize":8,"labelPadding":2,"title":"Time (ms)","titleFontSize":8,"titlePadding":1}},
        "y":{"field":"v","type":"quantitative","scale":{"domain":[0.85,0.94],"range":[241,25.7],"nice":false,"zero":false},
             "axis":{"orient":"left","offset":-64.7,"values":[0.85,0.86,0.87,0.88,0.89,0.9,0.91,0.92,0.93,0.94],"tickCount":30,"format":"~g","grid":false,"domain":true,"domainColor":"#888","ticks":true,"tickSize":3,"tickColor":"#888","labelFontSize":8,"labelPadding":2,"title":"Normalized phase ( θ - θ₀)","titleFontSize":8,"titlePadding":2}}}},
      {"data":{"name":"cfit"},"mark":{"type":"line","stroke":"#000","strokeWidth":2.5,"interpolate":"monotone"},
       "encoding":{
        "x":{"field":"t","type":"quantitative","scale":{"domain":[0,1000],"range":[64.7,430.7],"nice":false,"zero":false}},
        "y":{"field":"v","type":"quantitative","scale":{"domain":[0.85,0.94],"range":[241,25.7],"nice":false,"zero":false}}}}
     ]}
   ]}
]},
{"width":1,"height":308,"data":{"values":[]},"mark":"point"},
{"bounds":"flush","spacing":0,"hconcat":[
   {"width":176,"height":36,"data":{"values":[]},"mark":"point"},
   {"width":163,"height":36,"view":{"stroke":"#666","strokeWidth":1.2},"data":{"values":[{"f":"ΔZ(t)= a-b*ln(t-c)"}]},
    "mark":{"type":"text","fontSize":18,"dx":5,"align":"center","baseline":"middle","color":"#000"},
    "encoding":{"text":{"field":"f"},"x":{"datum":0.5,"type":"quantitative","scale":{"domain":[0,1]},"axis":null},"y":{"datum":0.5,"type":"quantitative","scale":{"domain":[0,1]},"axis":null}}},
   {"width":178,"height":36,"data":{"values":[]},"mark":"point"},
   {"width":30,"height":36,"data":{"values":[{"l":"b"}]},"mark":{"type":"text","fontSize":32,"align":"left","baseline":"alphabetic","dx":1,"dy":9,"color":"#000"},
    "encoding":{"text":{"field":"l"},"x":{"datum":0,"type":"quantitative","scale":{"domain":[0,1]},"axis":null},"y":{"datum":0,"type":"quantitative","scale":{"domain":[0,1]},"axis":null}}},
   {"width":208,"height":36,"data":{"values":[]},"mark":"point"},
   {"width":163,"height":36,"view":{"stroke":"#666","strokeWidth":1.2},"data":{"values":[{"f":"ΔZ(t)= a+b*ln(t-c)"}]},
    "mark":{"type":"text","fontSize":18,"dx":5,"align":"center","baseline":"middle","color":"#000"},
    "encoding":{"text":{"field":"f"},"x":{"datum":0.5,"type":"quantitative","scale":{"domain":[0,1]},"axis":null},"y":{"datum":0.5,"type":"quantitative","scale":{"domain":[0,1]},"axis":null}}},
   {"width":177,"height":36,"data":{"values":[]},"mark":"point"},
   {"width":24,"height":36,"data":{"values":[{"l":"c"}]},"mark":{"type":"text","fontSize":32,"align":"left","baseline":"alphabetic","dx":1,"dy":9,"color":"#000"},
    "encoding":{"text":{"field":"l"},"x":{"datum":0,"type":"quantitative","scale":{"domain":[0,1]},"axis":null},"y":{"datum":0,"type":"quantitative","scale":{"domain":[0,1]},"axis":null}}}
]}
]
}
